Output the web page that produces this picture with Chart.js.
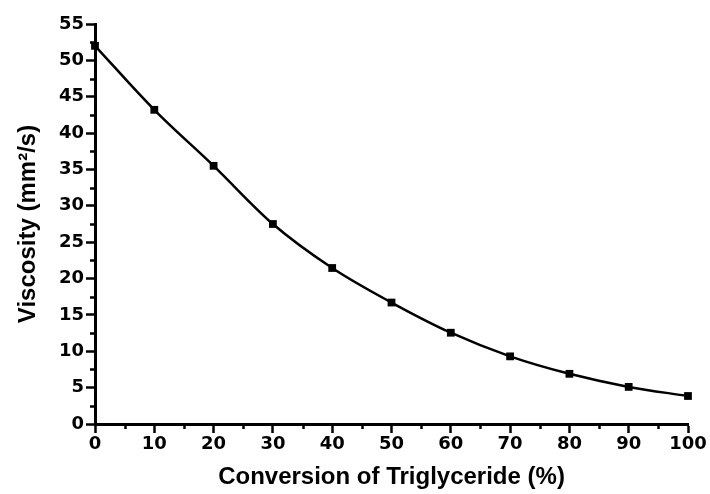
<!DOCTYPE html>
<html>
<head>
<meta charset="utf-8">
<script src="https://cdn.jsdelivr.net/npm/chart.js@4"></script>
<style>
  html, body { margin: 0; padding: 0; background: #fff; }
  #wrap { width: 710px; height: 494px; }
</style>
</head>
<body>
<div id="wrap"><canvas id="myChart" width="710" height="494"></canvas></div>
<script>
// conversion (%) vs kinematic viscosity
let conversion = [0, 10, 20, 30, 40, 50, 60, 70, 80, 90, 100];
let viscosity = [52.0, 43.2, 35.5, 27.5, 21.45, 16.7, 12.55, 9.3, 6.9, 5.1, 3.85];

let xMinorTicks = [5, 15, 25, 35, 45, 55, 65, 75, 85, 95];
let yMinorTicks = [2.5, 7.5, 12.5, 17.5, 22.5, 27.5, 32.5, 37.5, 42.5, 47.5, 52.5];

const tickFont = {family: 'DejaVu Sans, sans-serif', size: 18, weight: 'bold'};
const titleFamily = 'Liberation Sans, Arial, sans-serif';

// small ticks between the labelled ones
const minorTicks = {
    id: 'minorTicks',
    afterDraw(chart) {
        let c = chart.ctx;
        let xs = chart.scales.x, ys = chart.scales.y;
        c.save();
        c.strokeStyle = '#000';
        c.lineWidth = 2.5;
        c.beginPath();
        yMinorTicks.forEach(function (v) {
            let py = Math.round(ys.getPixelForValue(v)) + 0.5;
            c.moveTo(ys.right, py);
            c.lineTo(ys.right - 5, py);
        });
        xMinorTicks.forEach(function (v) {
            let px = Math.round(xs.getPixelForValue(v)) + 0.5;
            c.moveTo(px, xs.top);
            c.lineTo(px, xs.top + 5);
        });
        c.stroke();
        c.restore();
    }
};

let ctx = document.getElementById('myChart');
if (ctx !== null) {
    new Chart(ctx, {
        type: 'line',
        data: {
            datasets: [{
                data: conversion.map((x, i) => ({x: x, y: viscosity[i]})),
                borderColor: '#000',
                backgroundColor: '#000',
                borderWidth: 2.5,
                cubicInterpolationMode: 'monotone',
                pointStyle: 'rect',
                pointRadius: 5.5,
                pointBorderWidth: 0,
                clip: false
            }]
        },
        options: {
            responsive: false,
            animation: false,
            layout: {padding: {top: 24, right: 22, left: 0, bottom: 0}},
            plugins: {legend: {display: false}, tooltip: {enabled: false}},
            scales: {
                x: {
                    type: 'linear',
                    min: 0,
                    max: 100,
                    afterFit(scale) { scale.height = 70; },
                    border: {color: '#000', width: 3},
                    grid: {drawOnChartArea: false, tickLength: 9, tickColor: '#000', tickWidth: 2.5},
                    ticks: {stepSize: 10, color: '#000', font: tickFont, padding: 1, maxRotation: 0},
                    title: {
                        display: true,
                        text: 'Conversion of Triglyceride (%)',
                        color: '#000',
                        font: {family: titleFamily, size: 24, weight: 'bold'},
                        padding: {top: 0, bottom: 2}
                    }
                },
                y: {
                    min: 0,
                    max: 55,
                    afterFit(scale) { scale.width = 95; },
                    border: {color: '#000', width: 3},
                    grid: {drawOnChartArea: false, tickLength: 9, tickColor: '#000', tickWidth: 2.5},
                    ticks: {stepSize: 5, color: '#000', font: tickFont, padding: 2},
                    title: {
                        display: true,
                        text: 'Viscosity (mm²/s)',
                        color: '#000',
                        font: {family: titleFamily, size: 24, weight: 'bold'},
                        padding: {top: 14, bottom: 0}
                    }
                }
            }
        },
        plugins: [minorTicks]
    });
}
</script>
</body>
</html>
